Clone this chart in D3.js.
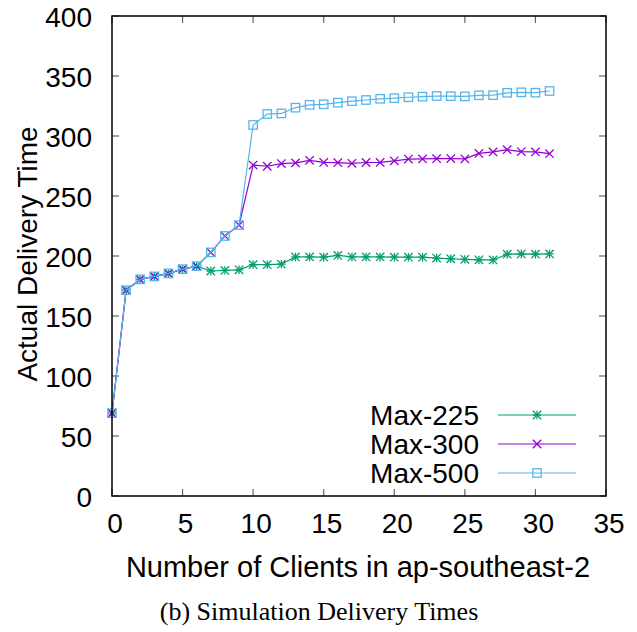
<!DOCTYPE html>
<html>
<head>
<meta charset="utf-8">
<script src="https://cdn.jsdelivr.net/npm/d3@7"></script>
<style>
  html, body { margin: 0; padding: 0; background: #fff; }
  svg { display: block; }
  text { font-family: "Liberation Sans", Arial, Helvetica, sans-serif; fill: #000; }
</style>
</head>
<body>
<svg id="chart" width="637" height="632"></svg>
<script>
// Number of clients on the x axis
const clients = d3.range(0, 32);

// Actual delivery time per client count, one array per max setting
const max225 = [69, 171.5, 180.5, 183, 185.5, 189, 191.5, 187.5, 188, 188.5, 192.8, 192.8, 193.2, 199.2, 199.2, 199,
  200.5, 199.2, 199.2, 199.2, 199, 199, 199, 198.3, 197.7, 197.2, 196.8, 196.7, 201.5, 201.7, 201.5, 201.7];
const max300 = [69, 171.5, 180.5, 183, 185.5, 189, 191.5, 203, 216.7, 225.8, 275.8, 274.8, 277, 277.6, 279.7, 278,
  277.8, 277.2, 277.9, 278, 279.3, 280.8, 280.9, 281.1, 281.2, 281, 285.5, 286.7, 288.6, 287, 286.7, 285.3];
const max500 = [69, 171.5, 180.5, 183, 185.5, 189, 191.5, 203, 216.7, 225.8, 309.2, 318.3, 318.8, 323.6, 326, 326.4,
  327.8, 329, 330, 331, 331.5, 332.3, 332.8, 333.3, 333.2, 333, 333.9, 334, 336, 336.4, 336.1, 337.5];

const seriesNames = ["Max-225", "Max-300", "Max-500"];
const seriesColors = ["#009e73", "#9400d3", "#56b4e9"];
const seriesMarkers = ["asterisk", "cross", "square"];

const xTicks = [0, 5, 10, 15, 20, 25, 30, 35];
const yTicks = [0, 50, 100, 150, 200, 250, 300, 350, 400];

const xTitle = "Number of Clients in ap-southeast-2";
const yTitle = "Actual Delivery Time";
const caption = "(b) Simulation Delivery Times";

const series = [max225, max300, max500].map((vals, i) => ({
  name: seriesNames[i],
  color: seriesColors[i],
  marker: seriesMarkers[i],
  points: clients.map((c, j) => ({ x: c, y: vals[j] }))
}));

const svg = d3.select("#chart");
const plotLeft = 112, plotRight = 606, plotTop = 16, plotBottom = 496;

const x = d3.scaleLinear().domain([0, 35]).range([plotLeft, plotRight]);
const y = d3.scaleLinear().domain([0, 400]).range([plotBottom, plotTop]);

// Inward ticks on all four sides
const tickLen = 7;
const tickColor = "#666";
const ticksG = svg.append("g");
xTicks.forEach(t => {
  ticksG.append("line").attr("x1", x(t)).attr("x2", x(t)).attr("y1", plotBottom).attr("y2", plotBottom - tickLen)
    .attr("stroke", tickColor).attr("stroke-width", 1.2);
  ticksG.append("line").attr("x1", x(t)).attr("x2", x(t)).attr("y1", plotTop).attr("y2", plotTop + tickLen)
    .attr("stroke", tickColor).attr("stroke-width", 1.2);
});
yTicks.forEach(t => {
  ticksG.append("line").attr("x1", plotLeft).attr("x2", plotLeft + tickLen).attr("y1", y(t)).attr("y2", y(t))
    .attr("stroke", tickColor).attr("stroke-width", 1.2);
  ticksG.append("line").attr("x1", plotRight).attr("x2", plotRight - tickLen).attr("y1", y(t)).attr("y2", y(t))
    .attr("stroke", tickColor).attr("stroke-width", 1.2);
});

// Tick labels
const labelG = svg.append("g").style("font-size", "28px");
xTicks.forEach(t => {
  labelG.append("text").attr("x", x(t) + 3).attr("y", plotBottom + 37)
    .attr("text-anchor", "middle").text(t);
});
yTicks.forEach(t => {
  labelG.append("text").attr("x", plotLeft - 20).attr("y", y(t) + 11)
    .attr("text-anchor", "end").text(t);
});

// Marker shapes
function drawMarker(g, kind, cx, cy, color) {
  const s = 4.2;
  if (kind === "asterisk" || kind === "cross") {
    g.append("path").attr("d", `M${cx - s},${cy - s}L${cx + s},${cy + s}M${cx - s},${cy + s}L${cx + s},${cy - s}`)
      .attr("stroke", color).attr("stroke-width", 1.3).attr("fill", "none");
  }
  if (kind === "asterisk") {
    g.append("path").attr("d", `M${cx - s},${cy}L${cx + s},${cy}M${cx},${cy - s}L${cx},${cy + s}`)
      .attr("stroke", color).attr("stroke-width", 1.3).attr("fill", "none");
  }
  if (kind === "square") {
    g.append("rect").attr("x", cx - s).attr("y", cy - s).attr("width", 2 * s).attr("height", 2 * s)
      .attr("stroke", color).attr("stroke-width", 1.3).attr("fill", "none");
  }
}

const line = d3.line().x(d => x(d.x)).y(d => y(d.y));

const plotG = svg.append("g");
series.forEach(s => {
  const g = plotG.append("g");
  g.append("path").datum(s.points).attr("d", line)
    .attr("fill", "none").attr("stroke", s.color).attr("stroke-width", 1.2);
  s.points.forEach(p => drawMarker(g, s.marker, x(p.x), y(p.y), s.color));
});

// Legend
const legendG = svg.append("g").style("font-size", "28px");
const legendRows = [415, 444, 473];
series.forEach((s, i) => {
  const ly = legendRows[i];
  legendG.append("text").attr("x", 479).attr("y", ly + 10).attr("text-anchor", "end").text(s.name);
  legendG.append("line").attr("x1", 498).attr("x2", 576).attr("y1", ly).attr("y2", ly)
    .attr("stroke", s.color).attr("stroke-width", 1.2);
  drawMarker(legendG, s.marker, 537, ly, s.color);
});

// Frame
svg.append("rect").attr("x", plotLeft).attr("y", plotTop)
  .attr("width", plotRight - plotLeft).attr("height", plotBottom - plotTop)
  .attr("fill", "none").attr("stroke", "#000").attr("stroke-width", 1.5);

// Axis titles
svg.append("text").attr("x", (plotLeft + plotRight) / 2 - 1).attr("y", 577).attr("text-anchor", "middle")
  .style("font-size", "29px").text(xTitle);
svg.append("text").attr("transform", `translate(37,${(plotTop + plotBottom) / 2 - 2}) rotate(-90)`)
  .attr("text-anchor", "middle").style("font-size", "28px").text(yTitle);

// Caption
svg.append("text").attr("x", 319).attr("y", 620).attr("text-anchor", "middle")
  .style("font-family", "'Liberation Serif', 'Times New Roman', serif").style("font-size", "26px").text(caption);
</script>
</body>
</html>
